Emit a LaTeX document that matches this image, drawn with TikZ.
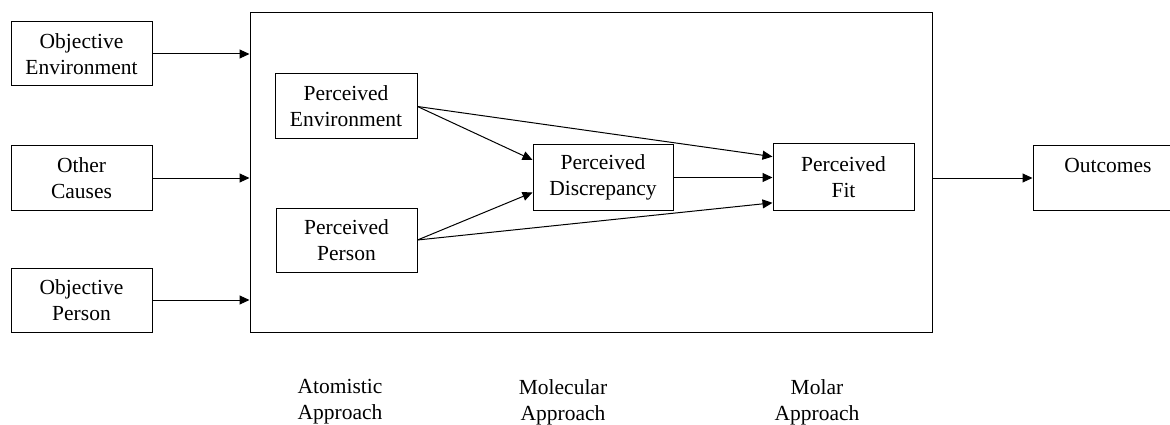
\documentclass[tikz,border=0pt]{standalone}
\usepackage{fontspec}
\setmainfont{Liberation Serif}
\usetikzlibrary{arrows.meta}

\tikzset{box/.style={rectangle, draw, line width=1pt, align=center, inner sep=0pt, font=\fontsize{21.5}{26}\selectfont},
	lbl/.style={align=center, inner sep=0pt, font=\fontsize{21.5}{26}\selectfont},
	arr/.style={line width=1pt, -{Triangle[length=10pt,width=9pt]}}}

\begin{document}
\begin{tikzpicture}[x=1pt, y=-1pt]
			\useasboundingbox (0,0) rectangle (1170,425);
			
			\node[box, minimum width=141pt, minimum height=64pt] (oenv) at (81.5,54) {Objective\\Environment};
			\node[box, minimum width=141pt, minimum height=65pt] (ocause) at (81.5,178) {Other\\Causes};
			\node[box, minimum width=141pt, minimum height=64pt] (operson) at (81.5,300) {Objective\\Person};
			
			\node[box, minimum width=682pt, minimum height=319pt] (frame) at (591,172.5) {};
			
			\node[box, minimum width=142pt, minimum height=65pt] (penv) at (346,106.5) {Perceived\\Environment};
			\node[box, minimum width=141pt, minimum height=64pt] (pper) at (346.5,240) {Perceived\\Person};
			\node[box, minimum width=140pt, minimum height=65pt] (pdisc) at (603,177.5) {Perceived\\Discrepancy};
			\node[box, minimum width=141pt, minimum height=66pt] (pfit) at (843.5,177) {Perceived\\Fit};
			\node[box, minimum width=150pt, minimum height=64pt] (outc) at (1108,178) {Outcomes\\~};
			
			\node[lbl] (atom) at (340,402) {Atomistic\\Approach};
			\node[lbl] (molec) at (563,402) {Molecular\\Approach};
			\node[lbl] (molar) at (817,402) {Molar\\Approach};
			
			\draw[arr] (oenv) -- (oenv -| frame.west);
			\draw[arr] (ocause) -- (ocause -| frame.west);
			\draw[arr] (operson) -- (operson -| frame.west);
			
			\draw[arr] (penv.east) -- (pdisc.166);
			\draw[arr] (pper.east) -- (pdisc.192);
			\draw[arr] (penv.east) -- (pfit.164);
			\draw[arr] (pper.east) -- (pfit.200);
			\draw[arr] (pdisc.east) -- (pdisc.east -| pfit.west);
			
			\draw[arr] (outc -| frame.east) -- (outc.west);
		\end{tikzpicture}
\end{document}
